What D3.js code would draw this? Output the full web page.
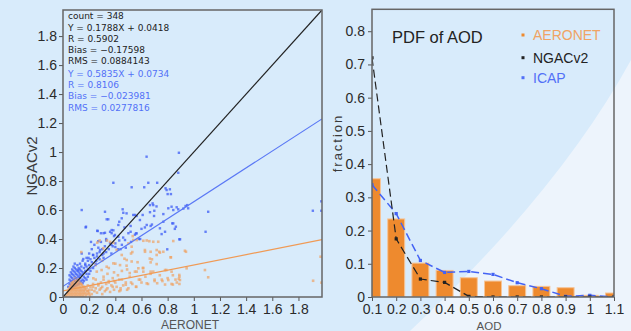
<!DOCTYPE html>
<html>
<head>
<meta charset="utf-8">
<script src="https://cdn.jsdelivr.net/npm/d3@7"></script>
<style>
  body { margin: 0; background: #d8ebfb; }
  svg { display: block; }
  .tick text { font-family: "Liberation Sans Narrow", "Liberation Sans", sans-serif; font-size: 14px; fill: #2a2a2a; }
</style>
</head>
<body>
<svg id="chart" width="631" height="331"></svg>
<script>
// ---- scatter: AERONET vs NGACv2 (orange) and AERONET vs ICAP (blue)
var ngacPoints = [
  [0.03,0.01],[0.04,0.02],[0.04,0.04],[0.05,0.01],[0.05,0.03],[0.05,0.05],[0.06,0.02],[0.06,0.04],[0.06,0.06],[0.06,0.08],
  [0.07,0.01],[0.07,0.03],[0.07,0.05],[0.07,0.07],[0.07,0.09],[0.08,0.02],[0.08,0.04],[0.08,0.06],[0.08,0.08],[0.08,0.10],
  [0.09,0.01],[0.09,0.03],[0.09,0.05],[0.09,0.07],[0.09,0.09],[0.10,0.02],[0.10,0.04],[0.10,0.06],[0.10,0.08],[0.10,0.11],
  [0.11,0.01],[0.11,0.03],[0.11,0.05],[0.11,0.07],[0.11,0.09],[0.12,0.02],[0.12,0.04],[0.12,0.06],[0.12,0.08],[0.12,0.12],
  [0.13,0.01],[0.13,0.03],[0.13,0.05],[0.13,0.07],[0.14,0.02],[0.14,0.04],[0.14,0.06],[0.14,0.09],[0.15,0.01],[0.15,0.03],
  [0.15,0.05],[0.16,0.02],[0.16,0.04],[0.16,0.07],[0.17,0.03],[0.17,0.05],[0.18,0.02],[0.18,0.06],[0.19,0.04],[0.19,0.08],
  [0.20,0.03],[0.20,0.05],[0.21,0.07],[0.22,0.02],[0.22,0.05],[0.23,0.09],[0.24,0.04],[0.25,0.06],[0.25,0.12],[0.26,0.03],
  [0.27,0.08],[0.28,0.05],[0.29,0.10],[0.30,0.02],[0.30,0.07],[0.31,0.14],[0.32,0.04],[0.33,0.09],[0.34,0.06],[0.35,0.11],
  [0.36,0.035],[0.37,0.08],[0.38,0.13],[0.39,0.05],[0.40,0.10],[0.41,0.07],[0.42,0.15],[0.43,0.04],[0.44,0.047],[0.45,0.12],
  [0.46,0.08],[0.48,0.10],[0.50,0.06],[0.51,0.14],[0.53,0.09],[0.55,0.175],[0.56,0.07],[0.58,0.12],[0.60,0.10],[0.61,0.20],
  [0.63,0.14],[0.65,0.09],[0.67,0.16],[0.69,0.175],[0.70,0.12],[0.72,0.095],[0.74,0.15],[0.76,0.11],[0.79,0.186],[0.80,0.13],
  [0.83,0.09],[0.84,0.15],[0.86,0.12],[0.89,0.14],[0.89,0.09],
  [0.02,0.005],[0.035,0.03],[0.045,0.06],[0.055,0.07],[0.065,0.10],[0.075,0.11],[0.085,0.12],[0.095,0.13],[0.105,0.10],[0.115,0.11],
  [0.125,0.10],[0.135,0.09],[0.145,0.08],[0.155,0.07],[0.165,0.06],[0.175,0.01],[0.185,0.04],[0.195,0.02],[0.205,0.01],[0.12,0.00],
  [0.10,0.00],[0.08,0.00],[0.06,0.00],[0.14,0.00],[0.16,0.00],
  [0.14,0.31],[0.28,0.39],[0.336,0.39],[0.30,0.25],[0.25,0.22],[0.35,0.20],[0.40,0.23],[0.47,0.264],[0.486,0.216],[0.537,0.393],
  [0.614,0.388],[0.64,0.39],[0.66,0.385],[0.614,0.2],[0.626,0.324],[0.664,0.265],[0.68,0.26],[0.716,0.324],[0.741,0.306],[0.825,0.274],
  [0.843,0.386],[0.932,0.319],[0.945,0.198],[0.52,0.30],[0.57,0.24],[1.085,0.186],[1.11,0.136],[1.912,0.112],[1.969,0.278],[1.976,0.099],
  [0.262,0.375],[0.308,0.336],[0.36,0.38],[0.385,0.375],[0.41,0.324],[0.449,0.29],[0.50,0.37],[0.53,0.31],[0.487,0.255],[0.436,0.22],
  [0.385,0.232],[0.334,0.209],[0.295,0.186],[0.258,0.175],[0.232,0.129],[0.34,0.16],[0.39,0.17],[0.45,0.18],[0.49,0.19],[0.51,0.165],
  [0.31,0.12],[0.35,0.10],[0.39,0.11],[0.43,0.12],[0.48,0.085],[0.52,0.10],[0.27,0.09],[0.23,0.07],[0.29,0.06],[0.33,0.05],
  [0.38,0.07],[0.44,0.06],[0.49,0.05],
  [0.533,0.42],[0.563,0.393],[0.69,0.381],[0.728,0.381],[0.525,0.347],[0.627,0.312],[0.67,0.312],[0.736,0.312],[0.767,0.312],[0.716,0.29],
  [0.94,0.312],[0.823,0.274],[0.525,0.245],[0.67,0.239],[0.716,0.227],[0.576,0.198],[0.563,0.175],[0.614,0.175],[0.67,0.175],[0.78,0.186],
  [0.83,0.175],[0.889,0.152],[0.894,0.117],[0.805,0.117],[0.755,0.12],[0.70,0.11],[0.64,0.094],[0.59,0.12],[0.558,0.071],[0.78,0.086],
  [0.84,0.086],[0.87,0.10],[0.885,0.125]
];
var icapPoints = [
  [0.04,0.07],[0.05,0.09],[0.05,0.12],[0.06,0.08],[0.06,0.11],[0.06,0.14],[0.07,0.10],[0.07,0.13],[0.07,0.16],[0.08,0.09],
  [0.08,0.12],[0.08,0.15],[0.08,0.18],[0.09,0.11],[0.09,0.14],[0.09,0.17],[0.09,0.20],[0.10,0.10],[0.10,0.13],[0.10,0.16],
  [0.10,0.19],[0.11,0.12],[0.11,0.15],[0.11,0.18],[0.11,0.22],[0.12,0.11],[0.12,0.14],[0.12,0.17],[0.12,0.20],[0.13,0.13],
  [0.13,0.16],[0.13,0.19],[0.13,0.23],[0.14,0.15],[0.14,0.18],[0.14,0.21],[0.15,0.12],[0.15,0.17],[0.15,0.25],[0.16,0.14],
  [0.16,0.20],[0.17,0.18],[0.17,0.23],[0.18,0.16],[0.18,0.21],[0.18,0.27],[0.19,0.19],[0.19,0.25],[0.20,0.22],[0.20,0.30],
  [0.21,0.18],[0.21,0.26],[0.22,0.24],[0.22,0.33],[0.23,0.20],[0.23,0.29],[0.24,0.27],[0.24,0.36],[0.25,0.23],[0.26,0.30],
  [0.26,0.28],[0.27,0.34],[0.28,0.26],[0.28,0.31],[0.29,0.38],[0.30,0.29],[0.30,0.33],[0.31,0.27],[0.32,0.35],[0.33,0.31],
  [0.33,0.40],[0.35,0.33],[0.36,0.37],[0.37,0.30],[0.38,0.35],[0.39,0.42],[0.40,0.37],[0.42,0.33],[0.43,0.39],[0.45,0.36],
  [0.46,0.41],[0.48,0.34],[0.50,0.44],[0.52,0.38],[0.55,0.43],[0.58,0.40],
  [0.06,0.06],[0.07,0.065],[0.08,0.07],[0.09,0.075],[0.10,0.08],[0.11,0.085],[0.12,0.09],[0.13,0.10],[0.14,0.11],[0.15,0.095],
  [0.16,0.11],[0.17,0.13],[0.18,0.12],[0.19,0.14],[0.20,0.16],[0.05,0.15],[0.06,0.17],[0.07,0.19],[0.08,0.21],[0.09,0.23],
  [0.143,0.60],[0.173,0.48],[0.265,0.455],[0.29,0.44],[0.321,0.443],[0.321,0.588],[0.334,0.536],[0.346,0.536],[0.372,0.44],[0.372,0.462],
  [0.385,0.788],[0.397,0.428],[0.423,0.416],[0.43,0.519],[0.456,0.605],[0.461,0.581],[0.474,0.393],[0.486,0.577],[0.517,0.49],[0.525,0.757],
  [0.558,0.439],[0.563,0.559],[0.588,0.531],[0.609,0.566],[0.621,0.757],[0.626,0.48],[0.639,0.968],[0.652,0.788],[0.665,0.634],[0.67,0.49],
  [0.685,0.646],[0.698,0.595],[0.72,0.788],[0.741,0.474],[0.767,0.572],[0.784,0.75],[0.792,0.738],[0.797,0.329],[0.80,0.71],[0.805,0.612],
  [0.817,0.743],[0.825,0.71],[0.83,0.623],[0.835,0.508],[0.843,0.60],[0.863,0.485],[0.881,0.857],[0.881,0.605],[0.886,0.995],[0.889,0.398],
  [0.937,0.628],[0.957,0.612],[1.09,0.45],[1.11,0.588],[1.91,0.595],[1.975,0.66],[1.975,0.595],
  [0.176,0.485],[0.262,0.457],[0.31,0.44],[0.36,0.45],[0.385,0.46],[0.423,0.497],[0.47,0.48],[0.517,0.45],[0.214,0.38],[0.27,0.385],
  [0.33,0.39],[0.37,0.36],[0.40,0.345],[0.44,0.33],[0.283,0.324],[0.31,0.30],[0.23,0.29],[0.195,0.27],[0.155,0.262],[0.143,0.30],
  [0.17,0.22],[0.117,0.186],[0.255,0.25],[0.449,0.543],[0.537,0.566],
  [0.69,0.634],[0.715,0.625],[0.869,0.619],[0.92,0.61],[0.95,0.634],[0.55,0.566],[0.665,0.585],[0.696,0.559],[0.64,0.497],[0.68,0.50],
  [0.767,0.519],[0.843,0.508],[0.855,0.47],[0.563,0.439],[0.60,0.47],[0.754,0.434],[0.78,0.45],[0.895,0.398],[0.59,0.40]
];
var ngacFit = { slope: 0.1788, intercept: 0.0418 };
var icapFit = { slope: 0.5835, intercept: 0.0734 };
var ngacStats = ["count = 348", "Y = 0.1788X + 0.0418", "R = 0.5902", "Bias = \u22120.17598", "RMS = 0.0884143"];
var icapStats = ["Y = 0.5835X + 0.0734", "R = 0.8106", "Bias = \u22120.023981", "RMS = 0.0277816"];
var scatterTicks = [0, 0.2, 0.4, 0.6, 0.8, 1, 1.2, 1.4, 1.6, 1.8];

// ---- PDF of AOD
var aodBins = [0.1, 0.2, 0.3, 0.4, 0.5, 0.6, 0.7, 0.8, 0.9, 1.0, 1.1];
var aeronetPdf = [0.356, 0.235, 0.102, 0.080, 0.058, 0.048, 0.034, 0.032, 0.028, 0.005, 0.012];
var ngacPdf = [0.72, 0.175, 0.054, 0.044, 0.002, 0, 0, 0, 0, 0, 0];
var icapPdf = [0.338, 0.251, 0.110, 0.074, 0.077, 0.068, 0.043, 0.025, 0.002, 0.005, 0];
var pdfYTicks = [0, 0.1, 0.2, 0.3, 0.4, 0.5, 0.6, 0.7, 0.8];
var legendNames = ["AERONET", "NGACv2", "ICAP"];

var orange = "#ee8a2e", orangeLight = "#f0a364", blue = "#3d5cf5", blueText = "#5270f7", dark = "#222";

var svg = d3.select("#chart");

// background sheen
svg.append("path")
  .attr("d", "M410,331 Q560,190 631,60 L631,331 Z")
  .attr("fill", "#edf4fc");

var defs = svg.append("defs");

function fmt(d) { return d === 0 ? "0" : d3.format("~g")(d); }

// ================= left: scatter =================
var left = { x0: 63, x1: 322, y0: 297, y1: 10 };
var xS = d3.scaleLinear().domain([0, 1.98]).range([left.x0, left.x1]);
var yS = d3.scaleLinear().domain([0, 1.98]).range([left.y0, left.y1]);

defs.append("clipPath").attr("id", "clipL").append("rect")
  .attr("x", left.x0).attr("y", left.y1)
  .attr("width", left.x1 - left.x0).attr("height", left.y0 - left.y1);

var gL = svg.append("g").attr("clip-path", "url(#clipL)");

gL.selectAll(".icap").data(icapPoints).enter().append("rect")
  .attr("x", function (d) { return xS(d[0]) - 1.2; })
  .attr("y", function (d) { return yS(d[1]) - 1.2; })
  .attr("width", 2.4).attr("height", 2.4)
  .attr("fill", blue).attr("opacity", 0.75);

gL.selectAll(".ngac").data(ngacPoints).enter().append("rect")
  .attr("x", function (d) { return xS(d[0]) - 1.3; })
  .attr("y", function (d) { return yS(d[1]) - 1.3; })
  .attr("width", 2.6).attr("height", 2.6)
  .attr("fill", orangeLight).attr("opacity", 0.7);

function fitLine(fit, color) {
  gL.append("line")
    .attr("x1", xS(0)).attr("y1", yS(fit.intercept))
    .attr("x2", xS(1.98)).attr("y2", yS(fit.slope * 1.98 + fit.intercept))
    .attr("stroke", color).attr("stroke-width", 1.2);
}
fitLine(ngacFit, "#f09a55");
fitLine(icapFit, "#5a78f5");
fitLine({ slope: 1, intercept: 0 }, dark);

svg.append("g").attr("transform", "translate(0," + left.y0 + ")")
  .call(d3.axisBottom(xS).tickValues(scatterTicks).tickSize(4).tickPadding(3).tickFormat(fmt))
  .call(function (g) { g.select(".domain").remove(); g.selectAll("line").attr("stroke", "#555"); });
svg.append("g").attr("transform", "translate(" + left.x0 + ",0)")
  .call(d3.axisLeft(yS).tickValues(scatterTicks).tickSize(4).tickPadding(2).tickFormat(fmt))
  .call(function (g) { g.select(".domain").remove(); g.selectAll("line").attr("stroke", "#555"); });

svg.append("rect")
  .attr("x", left.x0).attr("y", left.y1)
  .attr("width", left.x1 - left.x0).attr("height", left.y0 - left.y1)
  .attr("fill", "none").attr("stroke", "#666").attr("stroke-width", 1.5);

var statY = [19.3, 30.6, 41.6, 52.6, 64, 76.6, 88.3, 99.3, 110.6];
svg.selectAll(".statN").data(ngacStats).enter().append("text")
  .attr("x", 68).attr("y", function (d, i) { return statY[i]; })
  .attr("font-family", "DejaVu Sans, sans-serif").attr("font-size", 9)
  .attr("fill", dark).text(function (d) { return d; });
svg.selectAll(".statI").data(icapStats).enter().append("text")
  .attr("x", 68).attr("y", function (d, i) { return statY[i + 5]; })
  .attr("font-family", "DejaVu Sans, sans-serif").attr("font-size", 9)
  .attr("fill", blueText).text(function (d) { return d; });

svg.append("text")
  .attr("transform", "translate(37,166) rotate(-90)")
  .attr("text-anchor", "middle")
  .attr("font-family", "Liberation Sans, sans-serif").attr("font-size", 15)
  .attr("fill", "#3a3a3a").text("NGACv2");
svg.append("text")
  .attr("x", 190).attr("y", 329).attr("text-anchor", "middle")
  .attr("font-family", "Liberation Sans Narrow, Liberation Sans, sans-serif").attr("font-size", 12)
  .attr("fill", "#555").text("AERONET");

// ================= right: PDF =================
var right = { x0: 372, x1: 614, y0: 297, y1: 9.3 };
var xP = d3.scaleLinear().domain([0.1, 1.1]).range([right.x0, right.x1]);
var yP = d3.scaleLinear().domain([0, 0.866]).range([right.y0, right.y1]);

defs.append("clipPath").attr("id", "clipR").append("rect")
  .attr("x", right.x0).attr("y", right.y1)
  .attr("width", right.x1 - right.x0).attr("height", right.y0 - right.y1);

var gR = svg.append("g").attr("clip-path", "url(#clipR)");
var barW = xP(0.17) - xP(0.1);

gR.selectAll(".bar").data(aodBins).enter().append("rect")
  .attr("x", function (d) { return xP(d) - barW / 2; })
  .attr("y", function (d, i) { return yP(aeronetPdf[i]); })
  .attr("width", barW)
  .attr("height", function (d, i) { return yP(0) - yP(aeronetPdf[i]); })
  .attr("fill", orange).attr("stroke", "#f6c497").attr("stroke-width", 1);

function pdfLine(values, color, dash, width) {
  var pts = aodBins.map(function (b, i) { return [b, values[i]]; });
  gR.append("path")
    .attr("d", d3.line().x(function (d) { return xP(d[0]); }).y(function (d) { return yP(d[1]); })(pts))
    .attr("fill", "none").attr("stroke", color)
    .attr("stroke-width", width).attr("stroke-dasharray", dash);
  gR.selectAll(null).data(pts).enter().append("rect")
    .attr("x", function (d) { return xP(d[0]) - 1.6; })
    .attr("y", function (d) { return yP(d[1]) - 1.6; })
    .attr("width", 3.2).attr("height", 3.2).attr("fill", color);
}
pdfLine(icapPdf, "#4463f4", "8,4", 1.5);
pdfLine(ngacPdf, dark, "8,4", 1.2);

svg.append("g").attr("transform", "translate(0," + right.y0 + ")")
  .call(d3.axisBottom(xP).tickValues(aodBins).tickSize(4).tickPadding(3).tickFormat(fmt))
  .call(function (g) { g.select(".domain").remove(); g.selectAll("line").attr("stroke", "#555"); });
svg.append("g").attr("transform", "translate(" + right.x0 + ",0)")
  .call(d3.axisLeft(yP).tickValues(pdfYTicks).tickSize(4).tickPadding(3).tickFormat(fmt))
  .call(function (g) { g.select(".domain").remove(); g.selectAll("line").attr("stroke", "#555"); });

svg.append("rect")
  .attr("x", right.x0).attr("y", right.y1)
  .attr("width", right.x1 - right.x0).attr("height", right.y0 - right.y1)
  .attr("fill", "none").attr("stroke", "#666").attr("stroke-width", 1.5);

svg.append("text")
  .attr("x", 392).attr("y", 43)
  .attr("font-family", "Liberation Sans, sans-serif").attr("font-size", 16.5)
  .attr("fill", dark).text("PDF of AOD");

var legColors = [orangeLight, dark, blueText];
var legY = [35, 57.7, 77.7];
svg.selectAll(".legM").data(legendNames).enter().append("rect")
  .attr("x", 521.5).attr("y", function (d, i) { return legY[i] - 1.5; })
  .attr("width", 3).attr("height", 3)
  .attr("fill", function (d, i) { return i === 0 ? orange : legColors[i]; });
svg.selectAll(".legT").data(legendNames).enter().append("text")
  .attr("x", 533).attr("y", function (d, i) { return legY[i] + 5; })
  .attr("font-family", "Liberation Sans Narrow, Liberation Sans, sans-serif").attr("font-size", 14)
  .attr("fill", function (d, i) { return legColors[i]; }).text(function (d) { return d; });

svg.append("text")
  .attr("transform", "translate(342,143) rotate(-90)")
  .attr("text-anchor", "middle")
  .attr("font-family", "Liberation Sans, sans-serif").attr("font-size", 13)
  .attr("letter-spacing", 2)
  .attr("fill", "#3a3a3a").text("fraction");
svg.append("text")
  .attr("x", 489).attr("y", 330).attr("text-anchor", "middle")
  .attr("font-family", "Liberation Sans, sans-serif").attr("font-size", 11.5)
  .attr("fill", "#555").text("AOD");
</script>
</body>
</html>
